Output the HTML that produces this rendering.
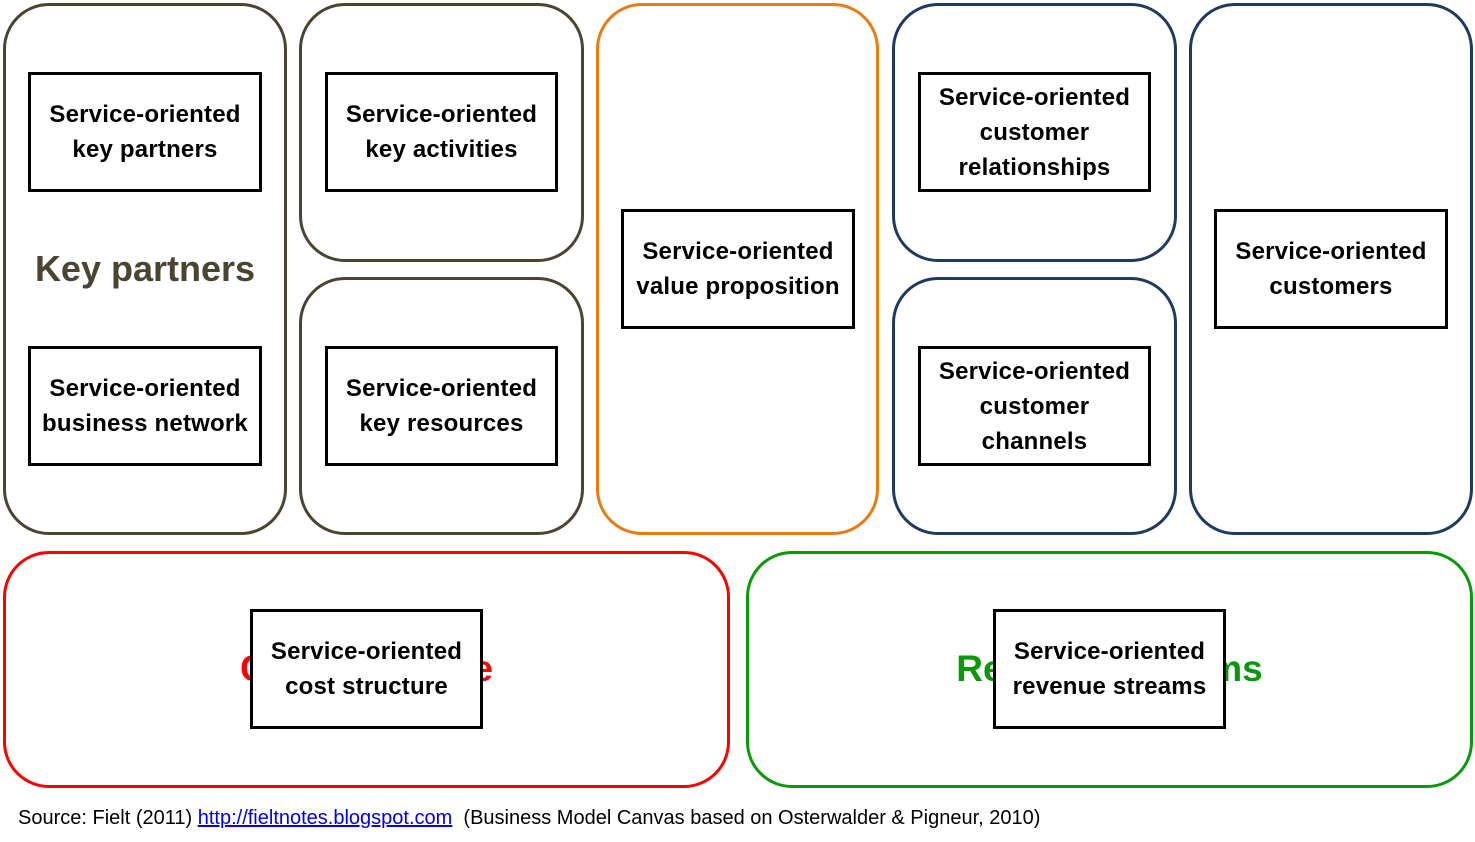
<!DOCTYPE html>
<html><head><meta charset="utf-8"><style>
body{margin:0;width:1475px;height:842px;background:#fff;position:relative;overflow:hidden;font-family:"Liberation Sans",sans-serif}
.p{position:absolute;border:3px solid;border-radius:46px;box-sizing:border-box}
.b{position:absolute;border:3px solid #000;background:#fff;box-sizing:border-box;display:flex;align-items:center;justify-content:center;text-align:center;font-weight:bold;font-size:24px;line-height:35px;color:#000;letter-spacing:0.2px}
.l{position:absolute;font-weight:bold;text-align:center;white-space:nowrap}
</style></head><body>
<div class="p" style="left:3px;top:3px;width:284px;height:532px;border-color:#4a4530"></div>
<div class="p" style="left:299px;top:3px;width:285px;height:259px;border-color:#4a4530"></div>
<div class="p" style="left:299px;top:277px;width:285px;height:258px;border-color:#4a4530"></div>
<div class="p" style="left:596px;top:3px;width:283px;height:532px;border-color:#e87b12"></div>
<div class="p" style="left:892px;top:3px;width:285px;height:259px;border-color:#1f3a5f"></div>
<div class="p" style="left:892px;top:277px;width:285px;height:258px;border-color:#1f3a5f"></div>
<div class="p" style="left:1189px;top:3px;width:284px;height:532px;border-color:#1f3a5f"></div>
<div class="p" style="left:3px;top:551px;width:727px;height:237px;border-color:#ff0000"></div>
<div class="p" style="left:746px;top:551px;width:727px;height:237px;border-color:#0a990a"></div>

<div class="l" style="left:3px;width:284px;top:248px;font-size:36px;color:#4a4530">Key partners</div>
<div class="l" style="left:3px;width:727px;top:648px;font-size:37px;color:#ff0000">Cost structure</div>
<div class="l" style="left:746px;width:727px;top:648px;font-size:37px;color:#0a990a">Revenue streams</div>

<div class="b" style="left:28px;top:72px;width:234px;height:120px">Service-oriented<br>key partners</div>
<div class="b" style="left:325px;top:72px;width:233px;height:120px">Service-oriented<br>key activities</div>
<div class="b" style="left:28px;top:346px;width:234px;height:120px">Service-oriented<br>business network</div>
<div class="b" style="left:325px;top:346px;width:233px;height:120px">Service-oriented<br>key resources</div>
<div class="b" style="left:621px;top:209px;width:234px;height:120px">Service-oriented<br>value proposition</div>
<div class="b" style="left:918px;top:72px;width:233px;height:120px">Service-oriented<br>customer<br>relationships</div>
<div class="b" style="left:918px;top:346px;width:233px;height:120px">Service-oriented<br>customer<br>channels</div>
<div class="b" style="left:1214px;top:209px;width:234px;height:120px">Service-oriented<br>customers</div>
<div class="b" style="left:250px;top:609px;width:233px;height:120px">Service-oriented<br>cost structure</div>
<div class="b" style="left:993px;top:609px;width:233px;height:120px">Service-oriented<br>revenue streams</div>

<div style="position:absolute;left:18px;top:807px;font-size:20px;color:#000;white-space:nowrap">Source: Fielt (2011) <span style="color:#0000ee;text-decoration:underline">http://fieltnotes.blogspot.com</span>&nbsp; (Business Model Canvas based on Osterwalder &amp; Pigneur, 2010)</div>
</body></html>
